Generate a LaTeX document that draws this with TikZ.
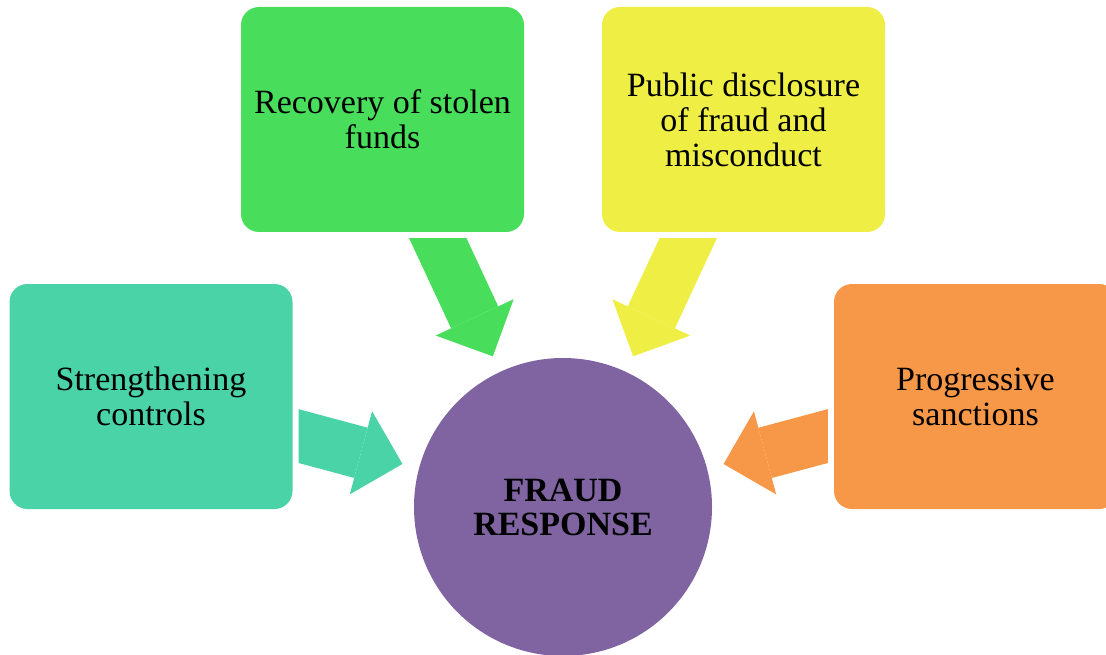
\documentclass[tikz,border=0pt]{standalone}
\usepackage{fontspec}
\setmainfont{Liberation Serif}
\usepackage{tikz}
\usetikzlibrary{arrows.meta,backgrounds}
\definecolor{recgreen}{RGB}{72,222,92}
\definecolor{discyellow}{RGB}{238,238,68}
\definecolor{ctrlteal}{RGB}{74,211,166}
\definecolor{sancorange}{RGB}{247,151,72}
\definecolor{fraudpurple}{RGB}{128,100,162}

\begin{document}
\begin{tikzpicture}[x=1pt,y=-1pt,
box/.style={rectangle,rounded corners=18pt,minimum width=283pt,minimum height=225pt,inner sep=0pt,align=center,font=\fontsize{34}{35}\selectfont,preaction={draw=white,line width=12pt}},
hub/.style={circle,minimum size=298pt,inner sep=0pt,align=center,fill=fraudpurple,font=\fontsize{34}{34}\selectfont\bfseries},
fat/.style={line width=52pt,-{Triangle[length=43pt,width=86pt,line width=0pt 0 0]},shorten >=17pt}]
\useasboundingbox (0,0) rectangle (1106,655);
\node[hub] (fraud) at (563,507) {FRAUD\\RESPONSE};
\node[box,fill=recgreen] (recovery) at (382.5,119.5) {Recovery of stolen\\funds};
\node[box,fill=discyellow] (disclosure) at (743.5,119.5) {Public disclosure\\of fraud and\\misconduct};
\node[box,fill=ctrlteal] (controls) at (151,396.5) {Strengthening\\controls};
\node[box,fill=sancorange] (sanctions) at (975.5,396.5) {Progressive\\sanctions};
% arrows sit behind the boxes
\begin{scope}[on background layer]
\draw[fat,recgreen] (recovery.center) -- (fraud);
\draw[fat,discyellow] (disclosure.center) -- (fraud);
\draw[fat,ctrlteal] (controls.center) -- (fraud);
\draw[fat,sancorange] (sanctions.center) -- (fraud);
\end{scope}
\end{tikzpicture}
\end{document}
